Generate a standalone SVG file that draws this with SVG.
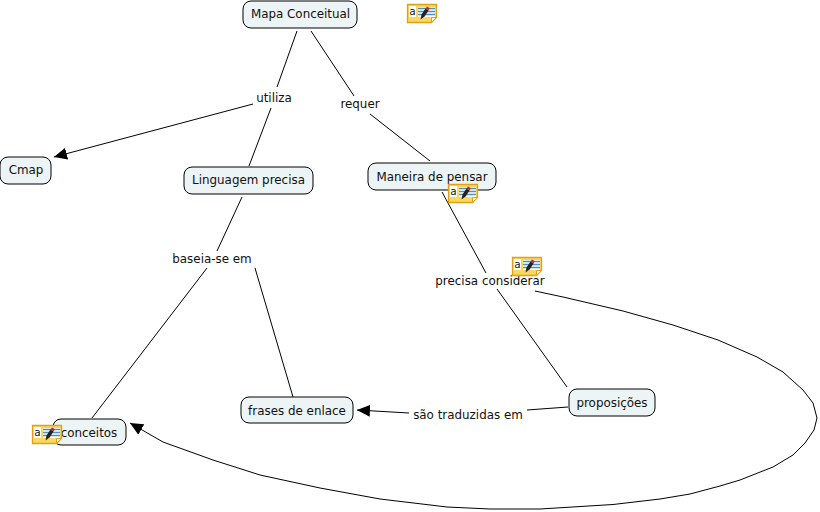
<svg xmlns="http://www.w3.org/2000/svg" width="820" height="512" viewBox="0 0 820 512">
<style>
text{font-family:"DejaVu Sans",Verdana,sans-serif;font-size:11.9px;fill:#111;text-anchor:middle}
.n{fill:#edf4f6;stroke:#000;stroke-width:1}
.c{fill:none;stroke:#000;stroke-width:1}
.a{marker-end:url(#arr)}
.g{font-family:"DejaVu Sans Mono",monospace;font-size:10.500px;fill:#111}
</style>
<defs>
<marker id="arr" markerUnits="userSpaceOnUse" markerWidth="14" markerHeight="12" refX="13" refY="6" orient="auto"><path d="M0 0L13 6L0 12z" fill="#000"/></marker>
<symbol id="note" width="31" height="20" viewBox="0 0 31 20" overflow="visible">
<path d="M.5.5H29.500V13.500L24.500 18.500H.5z" fill="#fbd75e" stroke="#dca31a" stroke-width="1.300"/>
<path d="M24.500 18.500V13.500H29.500z" fill="#fff8d0" stroke="#dca31a"/>
<rect x="2" y="2" width="7" height="11" fill="#fff"/>
<text class="g" x="5.500" y="10.500">a</text>
<rect x="11" y="3" width="17" height="10" fill="#fff"/>
<path d="M11 4.500H28M11 7.500H28M11 10.500H28" stroke="#4f8fc0" stroke-width="1.400"/>
<path d="M13.500 15.500L14.500 10.500L18.500 4.500L21.500 6.500L17.500 12.500z" fill="#222"/>
<path d="M18.500 4.500L20 2.500L22.800 4.300L21.500 6.500z" fill="#b03030"/>
</symbol>
</defs>
<g id="connectors">
<path class="c" d="M297 31L277 87M271 108L249 166"/>
<path class="c a" d="M253 104L54 157"/>
<path class="c" d="M311 31L354 96M370 114L430 161"/>
<path class="c" d="M242 197L217 251M207 268L92 418"/>
<path class="c" d="M255 268L293 397"/>
<path class="c" d="M442 192L486 273M497 289L567 387"/>
<path class="c" d="M568 407L527 410"/>
<path class="c a" d="M409 413L357 410"/>
<path class="c a" d="M535 291L563 297L623 311L673 325L718 340L757 357L783 372L803 390L813 403L817 418L814 430L805 443L793 455L773 467L740 480L720 486L690 494L660 499L613 504.500L540 509L490 509L447 507L380 499L320 488L260 475L213 460L163 442L130 423"/>
</g>
<g id="node-mapa"><rect class="n" x="243" y="1" width="114" height="27" rx="8"/><text x="300.500" y="18">Mapa Conceitual</text></g>
<g id="node-cmap"><rect class="n" x="0" y="157" width="51" height="27" rx="8"/><text x="26" y="174">Cmap</text></g>
<g id="node-linguagem"><rect class="n" x="184" y="167" width="129" height="27" rx="8"/><text x="248.500" y="184">Linguagem precisa</text></g>
<g id="node-maneira"><rect class="n" x="368" y="163" width="128" height="27" rx="8"/><text x="432" y="180.500">Maneira de pensar</text></g>
<g id="node-conceitos"><rect class="n" x="53" y="419" width="73" height="26" rx="8"/><text x="89" y="437">conceitos</text></g>
<g id="node-frases"><rect class="n" x="241" y="397" width="112" height="26" rx="8"/><text x="297" y="415">frases de enlace</text></g>
<g id="node-proposicoes"><rect class="n" x="569" y="389" width="86" height="27" rx="8"/><text x="612" y="407">proposições</text></g>
<g id="label-utiliza"><text x="274" y="102">utiliza</text></g>
<g id="label-requer"><text x="360" y="108">requer</text></g>
<g id="label-baseia"><text x="212" y="263">baseia-se em</text></g>
<g id="label-precisa"><text x="490" y="285">precisa considerar</text></g>
<g id="label-traduzidas"><text x="468" y="419">são traduzidas em</text></g>
<g id="icon-1"><use href="#note" x="407" y="4"/></g>
<g id="icon-2"><use href="#note" x="448" y="184"/></g>
<g id="icon-3"><use href="#note" x="512" y="257"/></g>
<g id="icon-4"><use href="#note" x="32" y="425"/></g>
</svg>
